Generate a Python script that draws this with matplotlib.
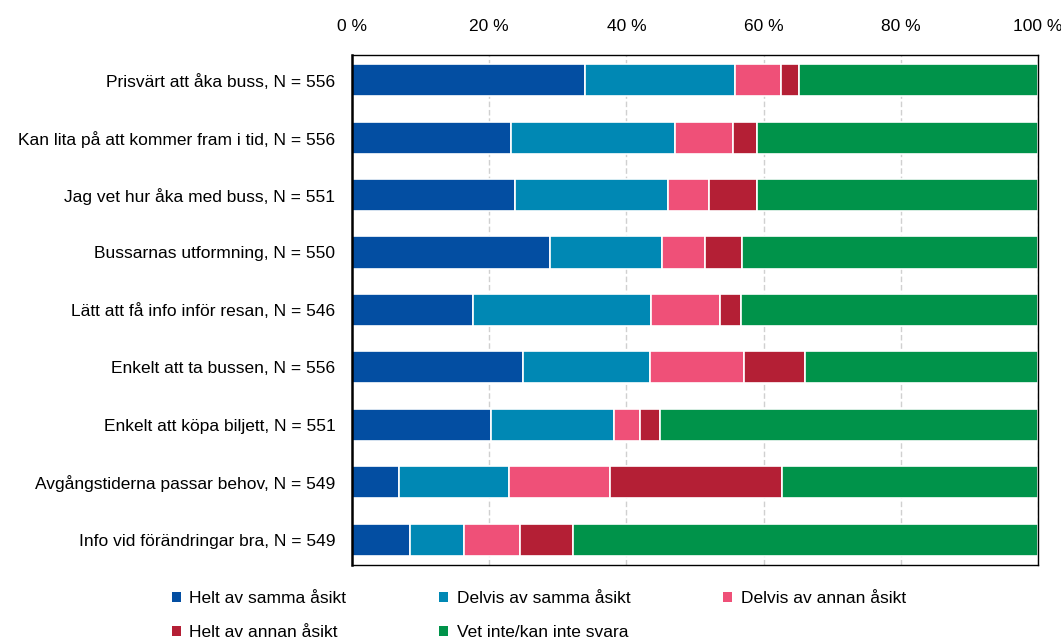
import numpy as np
import matplotlib.pyplot as plt
from matplotlib.patches import Patch

plt.rcParams['font.family'] = ['Liberation Sans', 'DejaVu Sans']

# Påståenden (uppifrån och ned) och andelar i procent
fragor = [
    'Prisvärt att åka buss, N = 556',
    'Kan lita på att kommer fram i tid, N = 556',
    'Jag vet hur åka med buss, N = 551',
    'Bussarnas utformning, N = 550',
    'Lätt att få info inför resan, N = 546',
    'Enkelt att ta bussen, N = 556',
    'Enkelt att köpa biljett, N = 551',
    'Avgångstiderna passar behov, N = 549',
    'Info vid förändringar bra, N = 549',
]
svar = ['Helt av samma åsikt', 'Delvis av samma åsikt', 'Delvis av annan åsikt',
        'Helt av annan åsikt', 'Vet inte/kan inte svara']

helt_samma = [33.9, 23.2, 23.7, 28.9, 17.6, 24.9, 20.3, 6.8, 8.4]
delvis_samma = [21.9, 23.9, 22.3, 16.3, 26.0, 18.5, 17.9, 16.1, 7.9]
delvis_annan = [6.8, 8.5, 6.0, 6.3, 10.0, 13.7, 3.8, 14.7, 8.2]
helt_annan = [2.5, 3.5, 7.1, 5.3, 3.1, 8.9, 2.9, 25.1, 7.7]
vet_inte = [34.9, 40.9, 40.9, 43.2, 43.3, 34.0, 55.1, 37.3, 67.8]

farger = ['#034ea2', '#0088b4', '#ef5078', '#b41f35', '#00934a']

fig = plt.figure(figsize=(10.61, 6.39), dpi=100)
ax = fig.add_axes([0.3318, 0.116, 0.6464, 0.798])

y = np.arange(len(fragor))
vanster = np.zeros(len(fragor))
for serie, farg, namn in zip([helt_samma, delvis_samma, delvis_annan, helt_annan, vet_inte],
                             farger, svar):
    ax.barh(y, serie, left=vanster, height=0.56, color=farg, edgecolor='white',
            linewidth=1.2, label=namn, zorder=3)
    vanster += np.array(serie)

ax.set_xlim(0, 100)
ax.set_ylim(8.44, -0.44)
ax.set_yticks(y)
ax.set_yticklabels(fragor, fontsize=12.5)
ax.set_xticks(range(0, 101, 20))
ax.set_xticklabels([f'{v} %' for v in range(0, 101, 20)], fontsize=12.5)
ax.xaxis.tick_top()
ax.tick_params(axis='y', length=0, pad=12)
ax.tick_params(axis='x', length=0, pad=15)
ax.grid(axis='x', color='#d0d0d0', linestyle=(0, (4, 2)), linewidth=1, zorder=0)
for sida in ax.spines.values():
    sida.set_color('black')
    sida.set_linewidth(1)
    sida.set_zorder(5)
ax.spines['left'].set_linewidth(1.8)

# legenden fylls kolumnvis, så ordningen läggs om för att läsas radvis
ordning = [0, 3, 1, 4, 2]
handtag = [Patch(facecolor=farger[i], edgecolor='none') for i in ordning]
fig.legend(handtag, [svar[i] for i in ordning], loc='upper left',
           bbox_to_anchor=(0.1475, 0.1), ncol=3, frameon=False, fontsize=12.5,
           handlelength=0.5, handleheight=0.5, handletextpad=0.5,
           columnspacing=5.35, labelspacing=1.12)

fig.savefig('out.png', dpi=100)
